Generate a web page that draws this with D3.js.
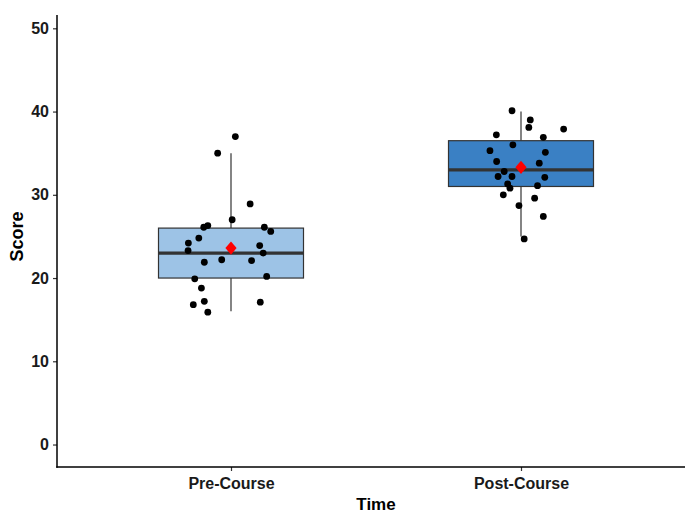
<!DOCTYPE html>
<html>
<head>
<meta charset="utf-8">
<script src="https://cdn.jsdelivr.net/npm/d3@7"></script>
<style>
  body { margin: 0; background: #fff; }
  text { font-family: "Liberation Sans", Arial, sans-serif; font-weight: bold; }
</style>
</head>
<body>
<div id="main"></div>
<script>
const width = 685;
const height = 513;

const groups = ["Pre-Course", "Post-Course"];
const boxColors = ["#9dc3e6", "#3a80c4"];

// box stats: [whiskerLow, q1, median, q3, whiskerHigh]
const preStats = [16, 20, 23, 26, 35];
const postStats = [25, 31, 33, 36.5, 40];
const means = [23.6, 33.3];

// jittered points: scores and horizontal offsets (category units)
const preScores = [37.0, 35.0, 28.9, 27.0, 26.1, 26.3, 26.1, 25.6, 24.8, 24.2, 23.9, 23.3,
  23.0, 22.2, 22.1, 21.9, 20.2, 19.9, 18.8, 17.2, 16.8, 17.1, 15.9];
const preJitter = [0.015, -0.046, 0.066, 0.004, -0.094, -0.080, 0.115, 0.137, -0.111, -0.147,
  0.099, -0.148, 0.111, -0.032, 0.071, -0.092, 0.123, -0.125, -0.102, -0.092, -0.130, 0.101, -0.080];
const postScores = [40.1, 39.0, 38.1, 37.9, 37.2, 36.9, 36.0, 35.3, 35.1, 34.0, 33.8, 32.8,
  32.2, 32.2, 32.1, 31.3, 30.8, 31.1, 30.0, 29.6, 28.7, 27.4, 24.7];
const postJitter = [-0.031, 0.032, 0.027, 0.147, -0.085, 0.077, -0.028, -0.107, 0.084, -0.084,
  0.063, -0.058, -0.079, -0.031, 0.082, -0.046, -0.038, 0.057, -0.061, 0.047, -0.007, 0.077, 0.011];

const yTicks = [0, 10, 20, 30, 40, 50];

const margin = { top: 15, right: 0, bottom: 46, left: 57 };

const svg = d3.select("#main").append("svg").attr("width", width).attr("height", height);

const x = d3.scaleLinear().domain([0.4, 2.6]).range([margin.left, 695]);
const y = d3.scaleLinear().domain([-2.7, 51.6]).range([height - margin.bottom, margin.top]);

const boxWidth = 0.5;
const statsList = [preStats, postStats];
const pointSets = [
  preScores.map((s, i) => ({ g: 1, v: s, j: preJitter[i] })),
  postScores.map((s, i) => ({ g: 2, v: s, j: postJitter[i] })),
];

// boxes
statsList.forEach((st, i) => {
  const cx = x(i + 1);
  const g = svg.append("g");
  g.append("line")
    .attr("x1", cx).attr("x2", cx)
    .attr("y1", y(st[4])).attr("y2", y(st[3]))
    .attr("stroke", "#333").attr("stroke-width", 1.2);
  g.append("line")
    .attr("x1", cx).attr("x2", cx)
    .attr("y1", y(st[1])).attr("y2", y(st[0]))
    .attr("stroke", "#333").attr("stroke-width", 1.2);
  g.append("rect")
    .attr("x", x(i + 1 - boxWidth / 2))
    .attr("width", x(i + 1 + boxWidth / 2) - x(i + 1 - boxWidth / 2))
    .attr("y", y(st[3]))
    .attr("height", y(st[1]) - y(st[3]))
    .attr("fill", boxColors[i])
    .attr("stroke", "#333")
    .attr("stroke-width", 1.2);
  g.append("line")
    .attr("x1", x(i + 1 - boxWidth / 2)).attr("x2", x(i + 1 + boxWidth / 2))
    .attr("y1", y(st[2])).attr("y2", y(st[2]))
    .attr("stroke", "#333").attr("stroke-width", 3.2);
});

// jittered points
svg.append("g")
  .selectAll("circle")
  .data(pointSets.flat())
  .enter()
  .append("circle")
  .attr("cx", (d) => x(d.g + d.j))
  .attr("cy", (d) => y(d.v))
  .attr("r", 3.4)
  .attr("fill", "#000");

// mean diamonds
svg.append("g")
  .selectAll("path")
  .data(means)
  .enter()
  .append("path")
  .attr("d", "M0,-6.7L5.6,0L0,6.7L-5.6,0Z")
  .attr("transform", (d, i) => `translate(${x(i + 1)}, ${y(d)})`)
  .attr("fill", "#ff0000");

// axes
const yAxis = svg.append("g")
  .attr("transform", `translate(${margin.left}, 0)`)
  .call(d3.axisLeft(y).tickValues(yTicks).tickSize(4).tickPadding(4));
yAxis.select(".domain").remove();
yAxis.selectAll(".tick line").attr("stroke", "#333").attr("stroke-width", 1.2);
yAxis.selectAll(".tick text").style("font-size", "16px").attr("fill", "#1a1a1a");

const xAxis = svg.append("g")
  .attr("transform", `translate(0, ${height - margin.bottom})`)
  .call(d3.axisBottom(x).tickValues([1, 2]).tickFormat((d) => groups[d - 1]).tickSize(4).tickPadding(7));
xAxis.select(".domain").remove();
xAxis.selectAll(".tick line").attr("stroke", "#333").attr("stroke-width", 1.2);
xAxis.selectAll(".tick text").style("font-size", "16px").attr("fill", "#1a1a1a");

// axis lines
svg.append("line")
  .attr("x1", margin.left).attr("x2", margin.left)
  .attr("y1", margin.top).attr("y2", height - margin.bottom + 0.75)
  .attr("stroke", "#000").attr("stroke-width", 1.5);
svg.append("line")
  .attr("x1", margin.left - 0.75).attr("x2", width)
  .attr("y1", height - margin.bottom).attr("y2", height - margin.bottom)
  .attr("stroke", "#000").attr("stroke-width", 1.5);

// titles
svg.append("text")
  .attr("x", x(1.5))
  .attr("y", 510)
  .attr("text-anchor", "middle")
  .style("font-size", "17px")
  .text("Time");

svg.append("text")
  .attr("transform", `translate(23, ${y(25)}) rotate(-90)`)
  .attr("text-anchor", "middle")
  .style("font-size", "18px")
  .text("Score");
</script>
</body>
</html>
